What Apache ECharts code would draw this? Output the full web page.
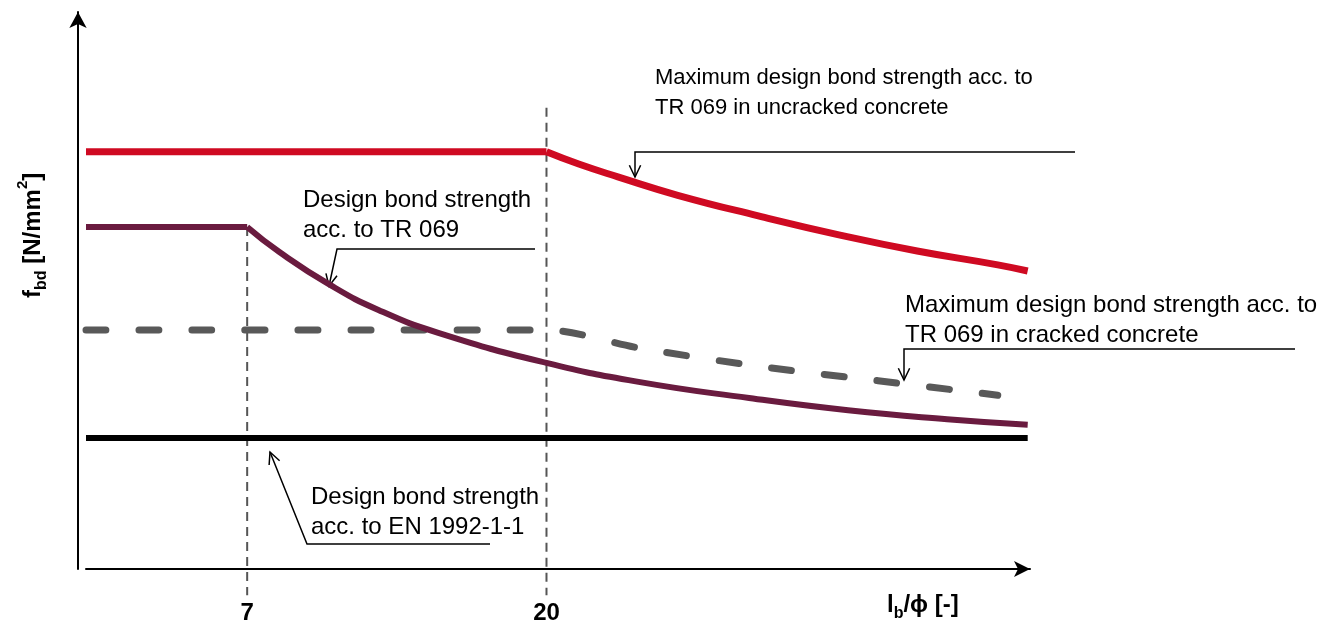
<!DOCTYPE html>
<html>
<head>
<meta charset="utf-8">
<script src="https://cdn.jsdelivr.net/npm/echarts@6/dist/echarts.min.js"></script>
<style>
  html, body { margin: 0; background: #fff; }
  #chart { width: 1334px; height: 630px; }
</style>
</head>
<body>
<div id="chart"></div>
<script>
// lb/phi on x, fbd in relative units (0..100 of the y axis)
var uncrackedX = [0, 20, 21.4, 23.1, 25.7, 29.2, 32.7, 36.1, 39.6, 40.9]
var uncrackedY = [74.9, 74.9, 72.7, 70.4, 67.1, 63.4, 60.0, 57.1, 54.6, 53.5]
var trX = [0, 7, 8.4, 10.6, 12.7, 15.3, 20, 24, 28.8, 33.1, 37.4, 40.9]
var trY = [61.4, 61.4, 56.9, 51.0, 46.5, 42.4, 37.0, 33.6, 30.7, 28.5, 26.9, 25.9]
var crackedX = [0, 20, 24, 29.2, 34.4, 39.6]
var crackedY = [42.9, 42.9, 39.7, 36.4, 33.8, 31.2]
var enX = [0, 40.9]
var enY = [23.5, 23.5]
var xTicks = [7, 20]
var guideTops = [61.4, 82.8]
var guideBottom = -4.7

var FONT = '"Liberation Sans", Arial, sans-serif'

function zip(xs, ys) {
  return xs.map(function (x, i) { return [x, ys[i]] })
}

// a plateau (first two points, straight) followed by a smooth decay
function plateauAndDecay(name, xs, ys, lineStyle) {
  var pts = zip(xs, ys)
  return [
    { name: name, type: 'line', data: pts.slice(0, 2), showSymbol: false, lineStyle: lineStyle },
    { name: name, type: 'line', data: pts.slice(1), showSymbol: false, smooth: 0.5, lineStyle: lineStyle }
  ]
}

var chart = echarts.init(document.getElementById('chart'))

var series = [
  {
    name: 'EN 1992-1-1',
    type: 'line',
    data: zip(enX, enY),
    showSymbol: false,
    lineStyle: { color: '#000', width: 6 }
  },
  {
    name: 'TR 069 cracked',
    type: 'line',
    data: zip(crackedX, crackedY),
    showSymbol: false,
    smooth: 0.3,
    lineStyle: { color: '#595959', width: 7, type: [20, 33], cap: 'round' }
  }
]
series = series
  .concat(plateauAndDecay('TR 069', trX, trY, { color: '#6A1B3F', width: 6 }))
  .concat(plateauAndDecay('TR 069 uncracked', uncrackedX, uncrackedY, { color: '#CF0A22', width: 7 }))

chart.setOption({
  animation: false,
  grid: { left: 86, right: 304, top: 12, bottom: 61 },
  xAxis: {
    type: 'value',
    min: 0,
    max: 41,
    axisLine: {
      show: true,
      onZero: false,
      symbol: ['none', 'arrow'],
      symbolSize: [12, 16],
      lineStyle: { color: '#000', width: 2 }
    },
    axisTick: { show: false },
    splitLine: { show: false },
    axisLabel: { show: false }
  },
  yAxis: {
    type: 'value',
    min: 0,
    max: 100,
    offset: 8,
    axisLine: {
      show: true,
      onZero: false,
      symbol: ['none', 'arrow'],
      symbolSize: [13, 16],
      lineStyle: { color: '#000', width: 2 }
    },
    axisTick: { show: false },
    splitLine: { show: false },
    axisLabel: { show: false }
  },
  series: series
})

function px(x, y) {
  return chart.convertToPixel({ gridIndex: 0 }, [x, y])
}

var measureCtx = document.createElement('canvas').getContext('2d')
function textWidth(t, size) {
  measureCtx.font = 'bold ' + size + 'px ' + FONT
  return measureCtx.measureText(t).width
}

// pieces of bold text with sub/superscripts, laid out left to right
function richRow(parts) {
  var x = 0
  return parts.map(function (p) {
    var el = {
      type: 'text',
      x: x,
      y: p.dy || 0,
      style: {
        text: p.t,
        fontSize: p.size,
        fontWeight: 'bold',
        fontFamily: FONT,
        fill: '#000',
        verticalAlign: 'middle'
      }
    }
    x += textWidth(p.t, p.size)
    return el
  })
}

function arrowHead(tip, from) {
  var ang = Math.atan2(tip[1] - from[1], tip[0] - from[0])
  var len = 13
  var spread = 0.45
  return {
    type: 'polyline',
    shape: {
      points: [
        [tip[0] - len * Math.cos(ang - spread), tip[1] - len * Math.sin(ang - spread)],
        tip,
        [tip[0] - len * Math.cos(ang + spread), tip[1] - len * Math.sin(ang + spread)]
      ]
    },
    style: { stroke: '#000', lineWidth: 1.5, fill: null }
  }
}

function leader(points) {
  var n = points.length
  return [
    {
      type: 'polyline',
      shape: { points: points },
      style: { stroke: '#000', lineWidth: 1.5, fill: null }
    },
    arrowHead(points[n - 1], points[n - 2])
  ]
}

function note(x, y, text, size) {
  return {
    type: 'text',
    x: x,
    y: y,
    style: {
      text: text,
      fontSize: size,
      fontFamily: FONT,
      fill: '#000',
      lineHeight: 30,
      verticalAlign: 'top'
    }
  }
}

var elements = []

// dashed guides at lb/phi = 7 and 20
xTicks.forEach(function (t, i) {
  var a = px(t, guideTops[i])
  var b = px(t, guideBottom)
  elements.push({
    type: 'line',
    shape: { x1: a[0], y1: a[1], x2: b[0], y2: b[1] },
    style: { stroke: '#555', lineWidth: 2, lineDash: [9, 6] },
    z: 1
  })
  var l = px(t, 0)
  elements.push({
    type: 'text',
    x: l[0],
    y: l[1] + 44,
    style: {
      text: String(t),
      fontSize: 24,
      fontWeight: 'bold',
      fontFamily: FONT,
      fill: '#000',
      align: 'center',
      verticalAlign: 'middle'
    }
  })
})

// axis names
elements.push({
  type: 'group',
  x: 887,
  y: 605,
  children: richRow([
    { t: 'l', size: 24 },
    { t: 'b', size: 16, dy: 9 },
    { t: '/\u03d5 [-]', size: 24 }
  ])
})
elements.push({
  type: 'group',
  x: 33,
  y: 298,
  rotation: Math.PI / 2,
  children: richRow([
    { t: 'f', size: 24 },
    { t: 'bd', size: 16, dy: 9 },
    { t: ' [N/mm', size: 24 },
    { t: '2', size: 15, dy: -10 },
    { t: ']', size: 24 }
  ])
})

// annotations
elements.push(note(655, 63, 'Maximum design bond strength acc. to\nTR 069 in uncracked concrete', 22))
elements = elements.concat(leader([[1075, 152], [635, 152], [635, 177]]))

elements.push(note(303, 185, 'Design bond strength\nacc. to TR 069', 24))
elements = elements.concat(leader([[535, 249], [337, 249], [329, 286]]))

elements.push(note(905, 290, 'Maximum design bond strength acc. to\nTR 069 in cracked concrete', 24))
elements = elements.concat(leader([[1295, 349], [904, 349], [904, 380]]))

elements.push(note(311, 482, 'Design bond strength\nacc. to EN 1992-1-1', 24))
elements = elements.concat(leader([[490, 544], [307, 544], [270, 452]]))

chart.setOption({ graphic: { elements: elements } })
</script>
</body>
</html>
